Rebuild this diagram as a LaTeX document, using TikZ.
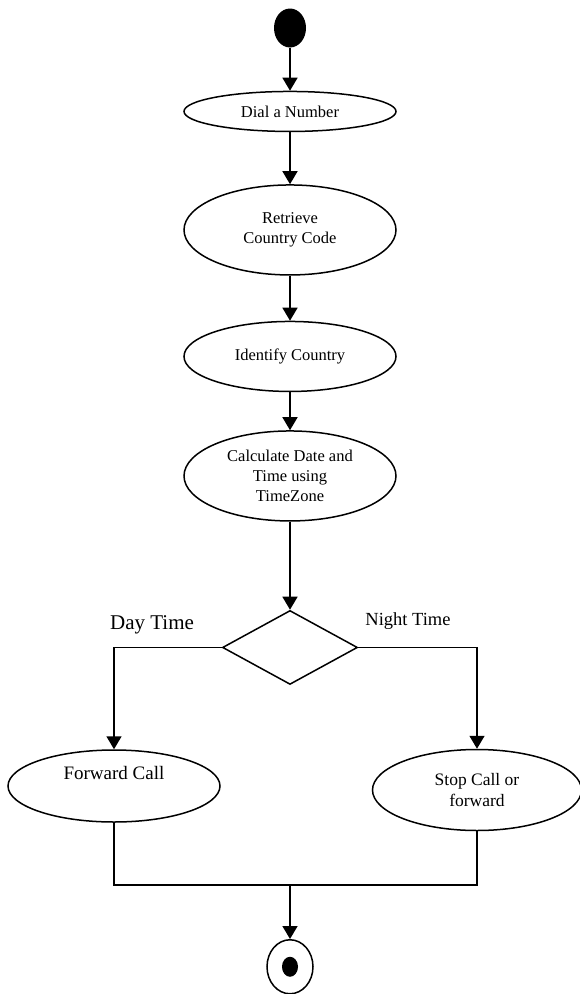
\documentclass[tikz,border=0pt]{standalone}
\usepackage{fontspec}
\setmainfont{Liberation Serif}
\usetikzlibrary{shapes.geometric, arrows.meta, positioning}

\begin{document}
\begin{tikzpicture}[
        x=1pt, y=-1pt,
        node distance=40pt,
        act/.style={ellipse, draw, line width=1.5pt, minimum width=212pt, inner sep=0pt, align=center, font=\fontsize{16.5}{20}\selectfont},
        decision/.style={diamond, draw, line width=1.5pt, minimum width=135pt, minimum height=74pt, inner sep=0pt},
        initial/.style={ellipse, fill=black, minimum width=32pt, minimum height=39pt, inner sep=0pt},
        final/.style={ellipse, draw, line width=1.5pt, minimum width=46pt, minimum height=54pt, inner sep=0pt},
        dot/.style={ellipse, fill=black, minimum width=16pt, minimum height=20pt, inner sep=0pt},
        arrow/.style={-{Triangle[length=13pt, width=15pt]}, line width=1.5pt},
        line/.style={line width=1.5pt}
    ]
    \useasboundingbox (0,0) rectangle (580,994);

    \node (start) [initial] at (290,28) {};
    \node (dial) [act, minimum height=40pt, below=43pt of start] {Dial a Number};
    \node (retrieve) [act, minimum height=90pt, below=52pt of dial] {Retrieve\\Country Code};
    \node (identify) [act, minimum height=70pt, below=45pt of retrieve] {Identify Country};
    \node (calc) [act, minimum height=90pt, below=38pt of identify] {Calculate Date and\\Time using\\TimeZone};
    \node (dec) [decision, below=88pt of calc] {};

    \node (fwd) [act, minimum height=72pt, font=\fontsize{19}{22}\selectfont] at (114,786) {Forward Call\\[4pt]};
    \node (stop) [act, minimum width=209pt, minimum height=81pt, font=\fontsize{17.5}{21}\selectfont] at (477,790) {Stop Call or\\forward};

    \node (daylbl) [font=\fontsize{21}{24}\selectfont, inner sep=0pt] at (152,625) {Day Time};
    \node (nightlbl) [font=\fontsize{18.5}{22}\selectfont, inner sep=0pt] at (408,621) {Night Time};

    \coordinate (join) at (290,885);
    \node (end) [final, below=54pt of join] {};
    \node (enddot) [dot] at (end) {};

    \draw[arrow] (start) -- (dial);
    \draw[arrow] (dial) -- (retrieve);
    \draw[arrow] (retrieve) -- (identify);
    \draw[arrow] (identify) -- (calc);
    \draw[arrow] (calc) -- (dec);
    \draw[arrow] (dec.west) -| (fwd.north);
    \draw[arrow] (dec.east) -| (stop.north);
    \draw[line] (fwd.south) |- (join) -| (stop.south);
    \draw[arrow] (join) -- (end);

\end{tikzpicture}
\end{document}
